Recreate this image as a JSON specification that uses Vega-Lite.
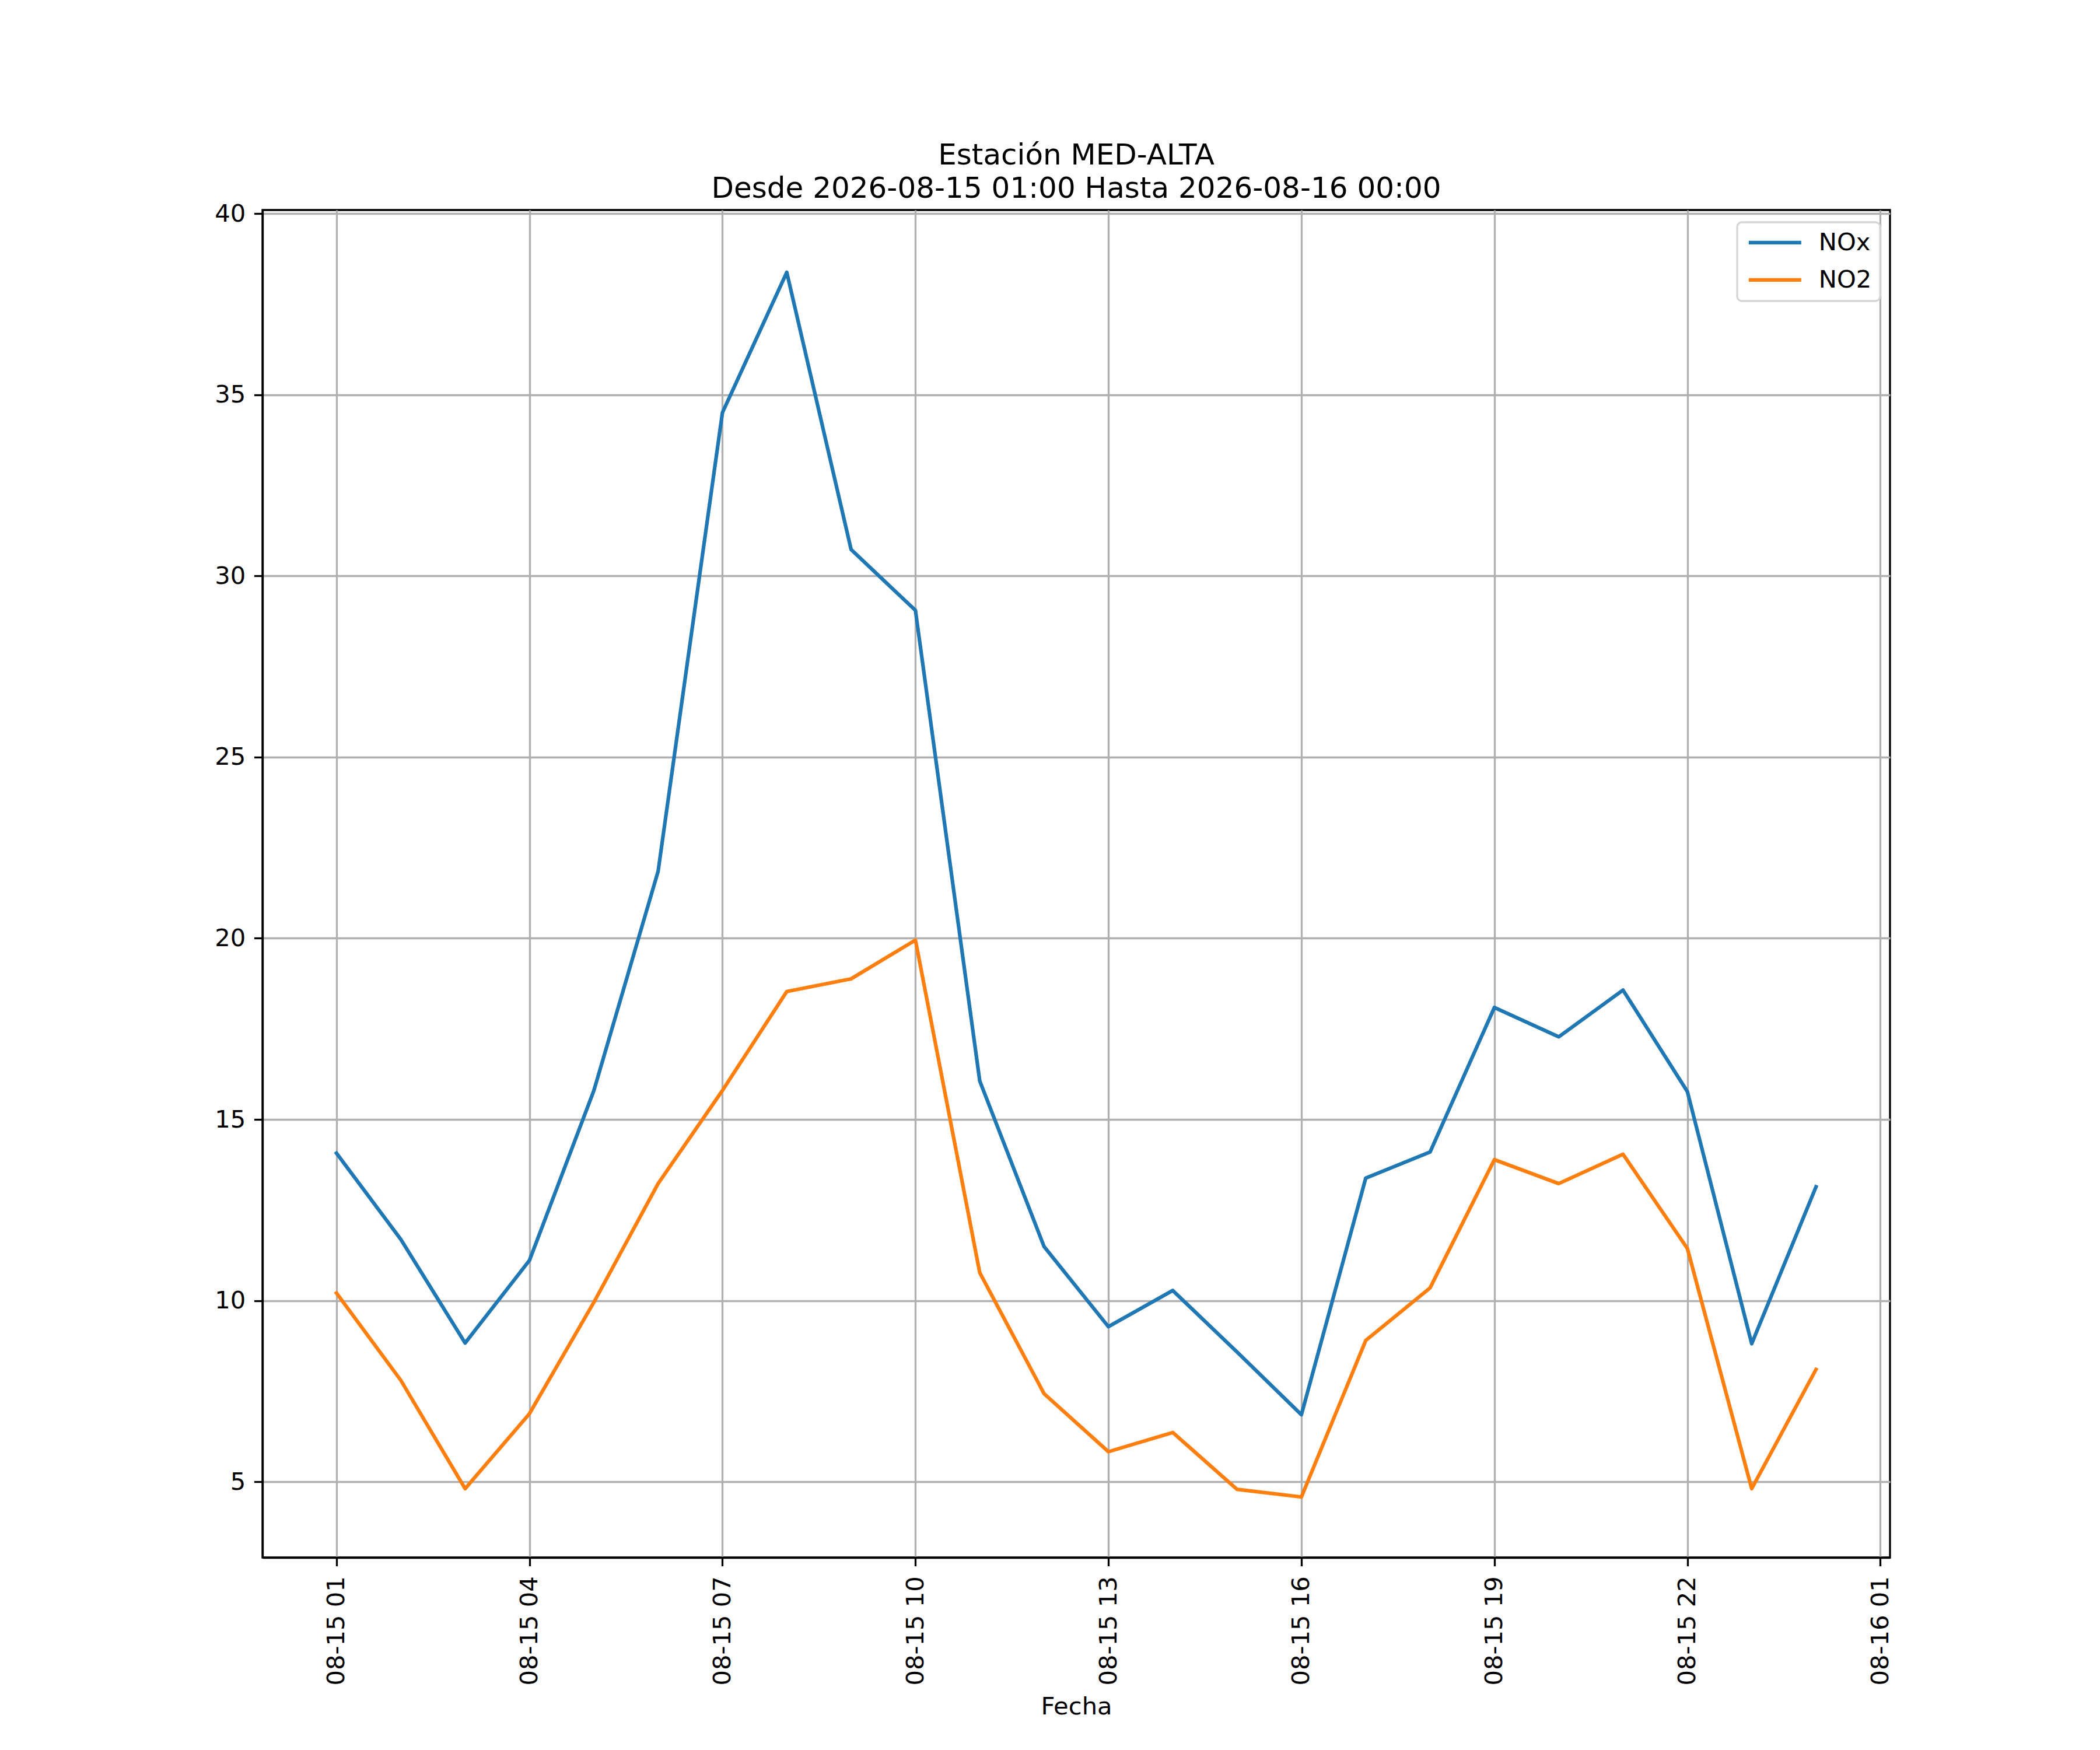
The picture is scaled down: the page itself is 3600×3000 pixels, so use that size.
{
  "$schema": "https://vega.github.io/schema/vega-lite/v6.json",
  "width": 2790,
  "height": 2310,
  "autosize": {"type": "none"},
  "padding": {"left": 450, "top": 360, "right": 360, "bottom": 330},
  "background": "white",
  "title": {
    "text": ["Estación MED-ALTA", "Desde 2026-08-15 01:00 Hasta 2026-08-16 00:00"],
    "font": "DejaVu Sans",
    "fontSize": 50,
    "fontWeight": "normal",
    "color": "black",
    "lineHeight": 57,
    "anchor": "middle",
    "frame": "group",
    "offset": -3
  },
  "data": {
    "values": [
      {"Fecha": "2026-08-15T01:00:00", "serie": "NOx", "valor": 14.07},
      {"Fecha": "2026-08-15T02:00:00", "serie": "NOx", "valor": 11.69},
      {"Fecha": "2026-08-15T03:00:00", "serie": "NOx", "valor": 8.83},
      {"Fecha": "2026-08-15T04:00:00", "serie": "NOx", "valor": 11.11},
      {"Fecha": "2026-08-15T05:00:00", "serie": "NOx", "valor": 15.79},
      {"Fecha": "2026-08-15T06:00:00", "serie": "NOx", "valor": 21.85},
      {"Fecha": "2026-08-15T07:00:00", "serie": "NOx", "valor": 34.51},
      {"Fecha": "2026-08-15T08:00:00", "serie": "NOx", "valor": 38.38},
      {"Fecha": "2026-08-15T09:00:00", "serie": "NOx", "valor": 30.73},
      {"Fecha": "2026-08-15T10:00:00", "serie": "NOx", "valor": 29.05},
      {"Fecha": "2026-08-15T11:00:00", "serie": "NOx", "valor": 16.06},
      {"Fecha": "2026-08-15T12:00:00", "serie": "NOx", "valor": 11.49},
      {"Fecha": "2026-08-15T13:00:00", "serie": "NOx", "valor": 9.28},
      {"Fecha": "2026-08-15T14:00:00", "serie": "NOx", "valor": 10.28},
      {"Fecha": "2026-08-15T15:00:00", "serie": "NOx", "valor": 8.58},
      {"Fecha": "2026-08-15T16:00:00", "serie": "NOx", "valor": 6.85},
      {"Fecha": "2026-08-15T17:00:00", "serie": "NOx", "valor": 13.38},
      {"Fecha": "2026-08-15T18:00:00", "serie": "NOx", "valor": 14.1},
      {"Fecha": "2026-08-15T19:00:00", "serie": "NOx", "valor": 18.09},
      {"Fecha": "2026-08-15T20:00:00", "serie": "NOx", "valor": 17.28},
      {"Fecha": "2026-08-15T21:00:00", "serie": "NOx", "valor": 18.57},
      {"Fecha": "2026-08-15T22:00:00", "serie": "NOx", "valor": 15.77},
      {"Fecha": "2026-08-15T23:00:00", "serie": "NOx", "valor": 8.81},
      {"Fecha": "2026-08-16T00:00:00", "serie": "NOx", "valor": 13.14},
      {"Fecha": "2026-08-15T01:00:00", "serie": "NO2", "valor": 10.21},
      {"Fecha": "2026-08-15T02:00:00", "serie": "NO2", "valor": 7.8},
      {"Fecha": "2026-08-15T03:00:00", "serie": "NO2", "valor": 4.81},
      {"Fecha": "2026-08-15T04:00:00", "serie": "NO2", "valor": 6.88},
      {"Fecha": "2026-08-15T05:00:00", "serie": "NO2", "valor": 9.95},
      {"Fecha": "2026-08-15T06:00:00", "serie": "NO2", "valor": 13.23},
      {"Fecha": "2026-08-15T07:00:00", "serie": "NO2", "valor": 15.8},
      {"Fecha": "2026-08-15T08:00:00", "serie": "NO2", "valor": 18.53},
      {"Fecha": "2026-08-15T09:00:00", "serie": "NO2", "valor": 18.88},
      {"Fecha": "2026-08-15T10:00:00", "serie": "NO2", "valor": 19.95},
      {"Fecha": "2026-08-15T11:00:00", "serie": "NO2", "valor": 10.77},
      {"Fecha": "2026-08-15T12:00:00", "serie": "NO2", "valor": 7.43},
      {"Fecha": "2026-08-15T13:00:00", "serie": "NO2", "valor": 5.83},
      {"Fecha": "2026-08-15T14:00:00", "serie": "NO2", "valor": 6.36},
      {"Fecha": "2026-08-15T15:00:00", "serie": "NO2", "valor": 4.79},
      {"Fecha": "2026-08-15T16:00:00", "serie": "NO2", "valor": 4.58},
      {"Fecha": "2026-08-15T17:00:00", "serie": "NO2", "valor": 8.9},
      {"Fecha": "2026-08-15T18:00:00", "serie": "NO2", "valor": 10.35},
      {"Fecha": "2026-08-15T19:00:00", "serie": "NO2", "valor": 13.89},
      {"Fecha": "2026-08-15T20:00:00", "serie": "NO2", "valor": 13.23},
      {"Fecha": "2026-08-15T21:00:00", "serie": "NO2", "valor": 14.04},
      {"Fecha": "2026-08-15T22:00:00", "serie": "NO2", "valor": 11.44},
      {"Fecha": "2026-08-15T23:00:00", "serie": "NO2", "valor": 4.81},
      {"Fecha": "2026-08-16T00:00:00", "serie": "NO2", "valor": 8.1}
    ]
  },
  "mark": {"type": "line", "strokeWidth": 6.25, "strokeJoin": "round", "strokeCap": "square", "clip": true},
  "encoding": {
    "x": {
      "field": "Fecha",
      "type": "temporal",
      "scale": {
        "domain": [
          {"year": 2026, "month": 8, "date": 14, "hours": 23, "minutes": 51},
          {"year": 2026, "month": 8, "date": 16, "hours": 1, "minutes": 9}
        ],
        "nice": false
      },
      "axis": {
        "title": "Fecha",
        "format": "%m-%d %H",
        "values": [
          {"year": 2026, "month": 8, "date": 15, "hours": 1},
          {"year": 2026, "month": 8, "date": 15, "hours": 4},
          {"year": 2026, "month": 8, "date": 15, "hours": 7},
          {"year": 2026, "month": 8, "date": 15, "hours": 10},
          {"year": 2026, "month": 8, "date": 15, "hours": 13},
          {"year": 2026, "month": 8, "date": 15, "hours": 16},
          {"year": 2026, "month": 8, "date": 15, "hours": 19},
          {"year": 2026, "month": 8, "date": 15, "hours": 22},
          {"year": 2026, "month": 8, "date": 16, "hours": 1}
        ],
        "labelAngle": 270,
        "labelAlign": "right",
        "labelBaseline": "middle",
        "labelPadding": 17,
        "labelLimit": 0,
        "labelFlush": false,
        "labelOverlap": false,
        "titlePadding": 35
      }
    },
    "y": {
      "field": "valor",
      "type": "quantitative",
      "scale": {"domain": [2.91, 40.1], "nice": false, "zero": false},
      "axis": {
        "title": null,
        "values": [5, 10, 15, 20, 25, 30, 35, 40],
        "labelPadding": 14.6
      }
    },
    "color": {
      "field": "serie",
      "type": "nominal",
      "scale": {"domain": ["NOx", "NO2"], "range": ["#1f77b4", "#ff7f0e"]},
      "sort": ["NOx", "NO2"],
      "legend": {
        "title": null,
        "orient": "none",
        "legendX": 2528,
        "legendY": 21,
        "fillColor": "white",
        "strokeColor": "#d6d6d6",
        "cornerRadius": 8,
        "padding": 14,
        "rowPadding": 21,
        "symbolType": "M-1,0H5",
        "symbolSize": 900,
        "symbolStrokeWidth": 6.25,
        "labelOffset": 84,
        "labelFont": "DejaVu Sans",
        "labelFontSize": 41.7,
        "labelColor": "black",
        "encode": {
          "legend": {"update": {"strokeWidth": {"value": 3.3}}}
        }
      }
    }
  },
  "config": {
    "view": {"stroke": "black", "strokeWidth": 3.3},
    "axis": {
      "labelFont": "DejaVu Sans",
      "labelFontSize": 41.7,
      "labelColor": "black",
      "titleFont": "DejaVu Sans",
      "titleFontSize": 41.7,
      "titleFontWeight": "normal",
      "titleColor": "black",
      "tickColor": "black",
      "tickWidth": 3.3,
      "tickSize": 14.6,
      "domainColor": "black",
      "domainWidth": 3.3,
      "grid": true,
      "gridColor": "#b0b0b0",
      "gridWidth": 3.3,
      "gridOpacity": 1
    }
  }
}
